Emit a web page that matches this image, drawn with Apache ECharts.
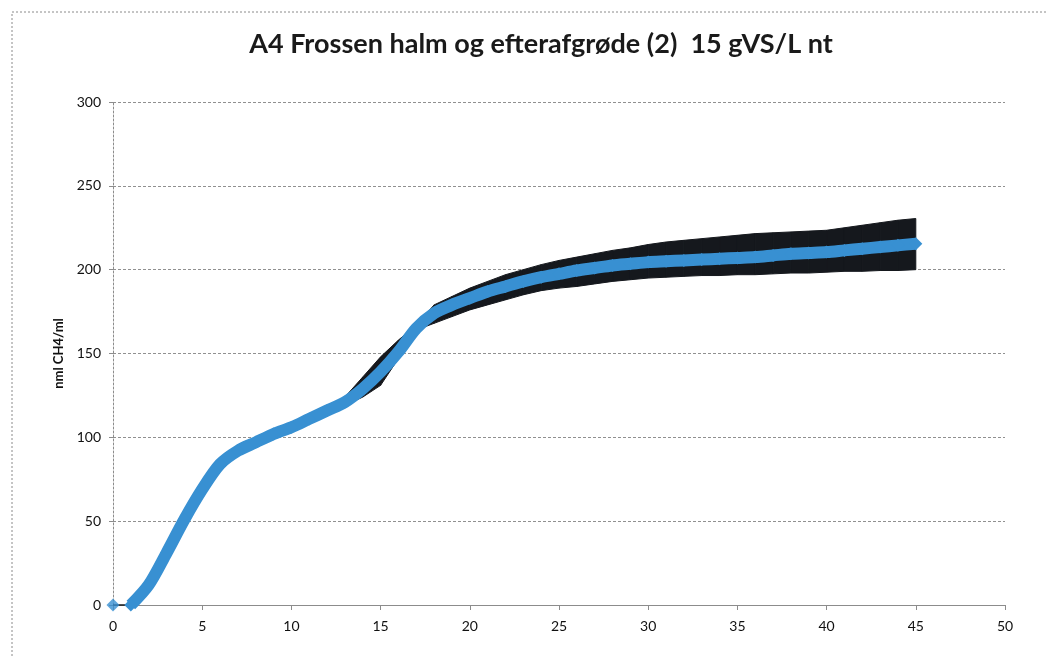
<!DOCTYPE html>
<html>
<head>
<meta charset="utf-8">
<script src="https://cdn.jsdelivr.net/npm/echarts@6/dist/echarts.min.js"></script>
<style>
html,body{margin:0;padding:0;background:#fff;}
#c{width:1047px;height:657px;}
</style>
</head>
<body>
<div id="c"></div>
<script>
const days = [0,1,2,3,4,5,6,7,8,9,10,11,12,13,14,15,16,17,18,19,20,21,22,23,24,25,26,27,28,29,30,31,32,33,34,35,36,37,38,39,40,41,42,43,44,45];
const ch4 = [0,0,12,31,51,69,84,92,97,102,106,111,116,121,129,139,151,165,174,179,183,187,190,193,195.5,197.5,199.5,201,202.5,203.5,204.5,205,205.5,206,206.5,207,207.5,208.5,209.5,210,210.5,211.5,212.5,213.5,214.5,215.5];
const upper = [0,0,12,31,51,69,84,92,97,102,106,111,117,124,136,148,158,167,179,184,189,193,197,200,203,205.5,207.5,209.5,211.5,213,215,216.5,217.5,218.5,219.5,220.5,221.5,222,222.5,223,223.5,225,226.5,228,229.5,230.5];
const lower = [0,0,12,31,51,69,84,92,97,102,106,111,115,119,124,131,147,164,168,172,176,179,182,185,187.5,189,190,191.5,193,194,195,195.5,196,196.5,196.5,197,197,197.5,198,198,198.5,199,199,199.5,199.5,200];
const xTicks = [0,5,10,15,20,25,30,35,40,45,50];
const yTicks = [0,50,100,150,200,250,300];

const chart = echarts.init(document.getElementById('c'));
const blue = '#3890d2';
const bandColor = '#15181d';
const bandData = days.slice(0, -1).map((d,i)=>[d, lower[i], upper[i], days[i+1], lower[i+1], upper[i+1]]);
const lineData = days.slice(1).map((d,i)=>[d, ch4[i+1]]);
const firstPoint = [[days[0], ch4[0]]];

chart.setOption({
  animation:false,
  backgroundColor:'#fff',
  title:{
    text:'A4 Frossen halm og efterafgrøde (2)  15 gVS/L nt',
    left:536, top:26, textAlign:'center',
    textStyle:{fontFamily:'Lato', fontWeight:'bold', fontSize:27, color:'#1a1a1a'}
  },
  graphic:[{
    type:'rect', shape:{x:12, y:12, width:1060, height:700},
    style:{fill:'none', stroke:'#8a8a8a', lineWidth:1, lineDash:[2,2]}
  }],
  grid:{left:113, right:42, top:102, bottom:52},
  xAxis:{
    type:'value', min:0, max:50, interval:5,
    axisLine:{show:true, lineStyle:{color:'#8c8c8c', width:1}},
    axisTick:{show:true, length:5, lineStyle:{color:'#8c8c8c'}},
    axisLabel:{color:'#111', fontSize:14, fontFamily:'Lato', margin:14,
      formatter:v=> xTicks.includes(v)? String(v):''},
    splitLine:{show:false}
  },
  yAxis:{
    type:'value', min:0, max:300, interval:50,
    name:'nml CH4/ml', nameLocation:'middle', nameGap:46, nameRotate:90,
    nameTextStyle:{fontFamily:'Lato', fontWeight:'bold', fontSize:13, color:'#111'},
    axisLine:{show:true, lineStyle:{color:'#8c8c8c', width:1, type:[2,2]}},
    axisTick:{show:true, length:4, lineStyle:{color:'#8c8c8c'}},
    axisLabel:{color:'#111', fontSize:14, fontFamily:'Lato', margin:12,
      formatter:v=> yTicks.includes(v)? String(v):''},
    splitLine:{show:true, lineStyle:{color:'#909090', width:1, type:[3,2]}}
  },
  series:[
    {type:'custom', name:'band', data:bandData, silent:true, z:2,
     encode:{x:[0,3], y:[1,2,4,5]},
     renderItem:(params, api)=>{
       const a1 = api.coord([api.value(0), api.value(2)]);
       const b1 = api.coord([api.value(3), api.value(5)]);
       const b0 = api.coord([api.value(3), api.value(4)]);
       const a0 = api.coord([api.value(0), api.value(1)]);
       return {type:'polygon', shape:{points:[a1,b1,b0,a0]},
         style:{fill:bandColor, stroke:bandColor, lineWidth:1}};
     }},
    {type:'line', name:'mean', data:lineData, smooth:0.3,
     symbol:'diamond', symbolSize:13, showSymbol:true,
     itemStyle:{color:blue}, lineStyle:{color:blue, width:12}, z:3},
    {type:'scatter', name:'start', data:firstPoint, symbol:'diamond', symbolSize:13,
     itemStyle:{color:blue}, z:3}
  ]
});
</script>
</body>
</html>
